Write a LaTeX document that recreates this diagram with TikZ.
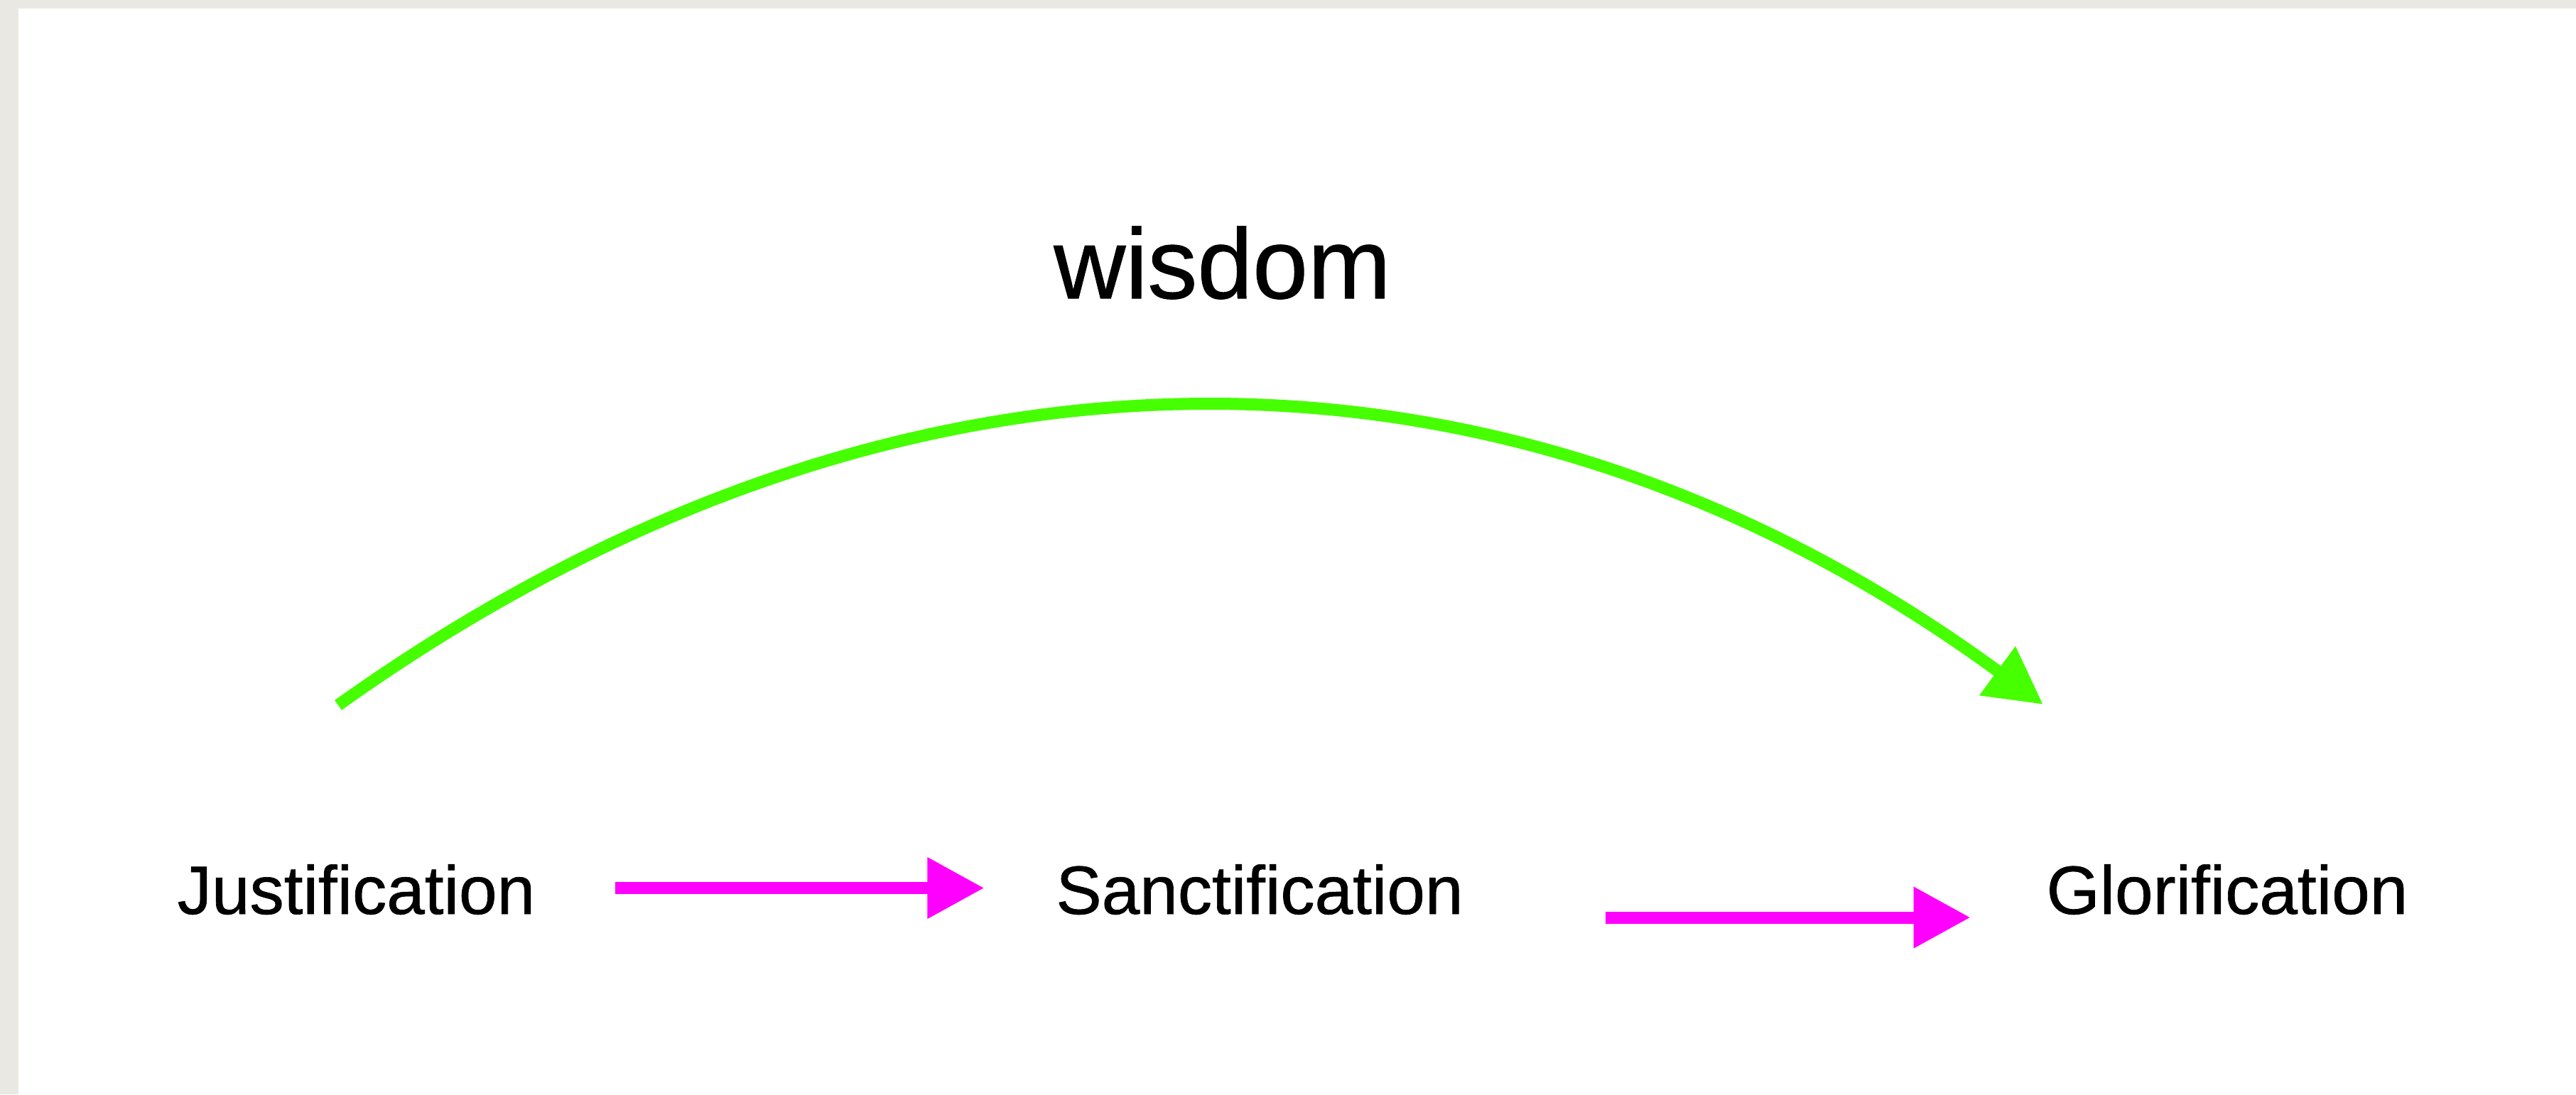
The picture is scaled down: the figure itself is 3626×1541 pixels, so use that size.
\documentclass[tikz,border=0pt]{standalone}
\usepackage{fontspec}
\setmainfont{Liberation Sans}
\newfontfamily\lblfont[RawFeature={embolden=0.7}]{Liberation Sans}
\usetikzlibrary{arrows.meta,calc}
\definecolor{bggray}{RGB}{234,232,227}
\definecolor{arcgreen}{RGB}{70,255,0}
\definecolor{flowpink}{RGB}{255,0,255}
\tikzset{
  label/.style={inner sep=0pt, outer sep=0pt, anchor=base, text=black,
    font=\lblfont\fontsize{27.4pt}{32pt}\selectfont},
  biglabel/.style={label, font=\lblfont\fontsize{39.8pt}{46pt}\selectfont},
  pinkarrow/.style={draw=flowpink, line width=0.17cm,
    -{Triangle[length=0.8cm,width=0.82cm]}, fill=flowpink},
  greenarrow/.style={draw=arcgreen, line width=0.17cm,
    -{Triangle[length=0.8cm,width=0.81cm,fill=arcgreen]}}
}
\begin{document}
\begin{tikzpicture}[x=0.01cm,y=-0.01cm]
  \useasboundingbox (0,0) rectangle (3626,1541);
  \fill[bggray] (0,0) rectangle (3626,1541);
  \fill[white] (26,12) rectangle (3626,1541);

  \node[label] (j) at (501.5,1287) {Justification};
  \node[label] (s) at (1773,1287) {Sanctification};
  \node[label] (g) at (3135,1287) {Glorification};
  \node[biglabel] (w) at (1720.5,420) {wisdom};

  \draw[pinkarrow] ($(j.base east)+(113,-36.5)$) -- ($(s.base west)+(-101,-36.5)$);
  \draw[pinkarrow] ($(s.base east)+(200,5)$) -- ($(g.base west)+(-107,5)$);

  \coordinate (ws) at (476,993);
  \coordinate (we) at (2876,992);
  \draw[greenarrow] (ws) .. controls (1250,440) and (2110,430) .. (we);
\end{tikzpicture}
\end{document}
